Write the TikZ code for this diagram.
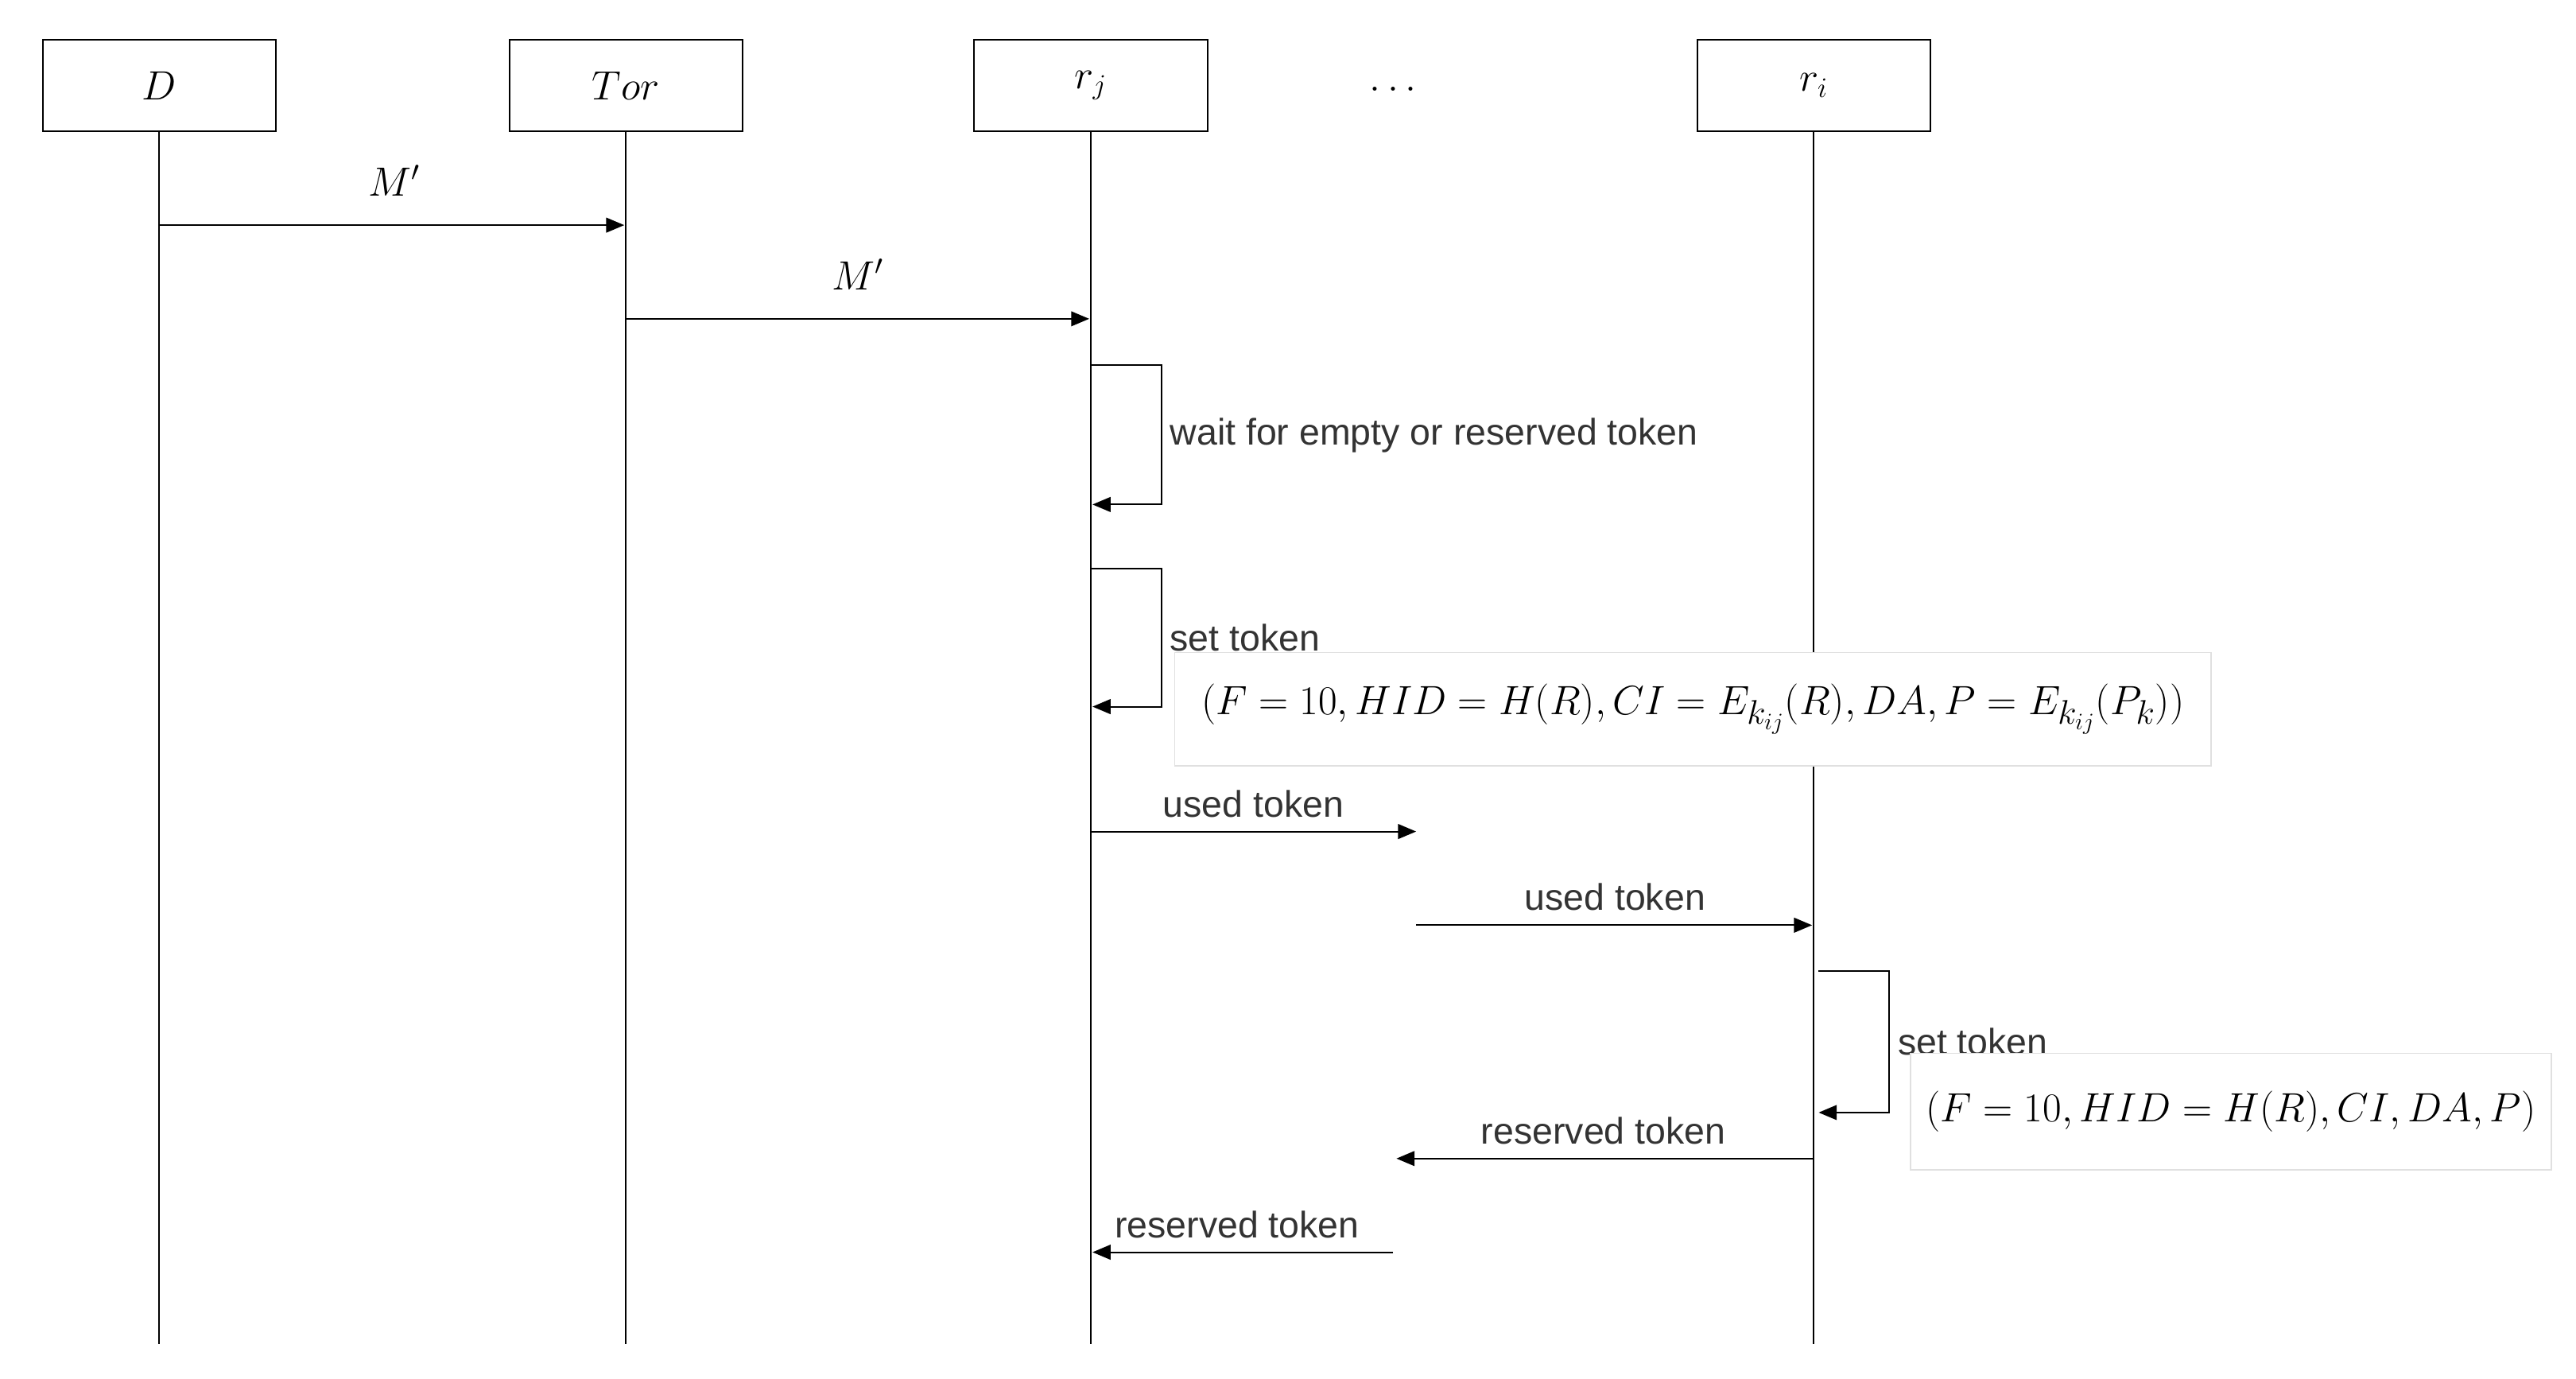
\documentclass[tikz,border=0pt]{standalone}
\usepackage{fontspec}
\setmainfont{Liberation Sans}
\usetikzlibrary{arrows.meta}
\begin{document}
\begin{tikzpicture}[x=1pt,y=-1pt,
  box/.style={draw,line width=1pt,minimum width=142pt,minimum height=56pt,inner sep=0pt,font=\fontsize{27}{29}\selectfont},
  life/.style={line width=1pt},
  msg/.style={line width=1pt,-{Triangle[length=11pt,width=9pt]}},
  lbl/.style={font=\fontsize{22.5}{24}\selectfont,inner sep=0pt,text=black!80},
  mlbl/.style={inner sep=0pt,font=\fontsize{27}{29}\selectfont},
  fbox/.style={draw=black!12,fill=white,line width=0.8pt,inner sep=0pt,font=\fontsize{27.5}{30}\selectfont}]
\useasboundingbox (0,0) rectangle (1568,839);
\node[box] (D) at (97,52) {$D$};
\node[box] (T) at (381,52) {$Tor$};
\node[box] (J) at (664,52) {$r_j$};
\node[box] (I) at (1104,52) {$r_i$};
\node[font=\fontsize{30}{32}\selectfont] (dots) at (848,54) {$\dots$};
\coordinate (De) at (97,818); \coordinate (Te) at (381,818);
\coordinate (Je) at (664,818); \coordinate (Ie) at (1104,818);
\draw[life] (D) -- (De); \draw[life] (T) -- (Te);
\draw[life] (J) -- (Je); \draw[life] (I) -- (Ie);
% messages
\coordinate (a1) at (97,137); \coordinate (a2) at (380,137);
\draw[msg] (a1) -- (a2);
\node[mlbl] (l1) at (240,110) {$M'$};
\coordinate (b1) at (381,194); \coordinate (b2) at (663,194);
\draw[msg] (b1) -- (b2);
\node[mlbl] (l2) at (522,167) {$M'$};
% loop 1
\coordinate (c1) at (664,222); \coordinate (c2) at (707,222);
\coordinate (c3) at (707,307); \coordinate (c4) at (665,307);
\draw[msg] (c1) -- (c2) -- (c3) -- (c4);
\node[lbl,anchor=west] (l3) at (712,265) {wait for empty or reserved token};
% loop 2
\coordinate (d1) at (664,346); \coordinate (d2) at (707,346);
\coordinate (d3) at (707,430); \coordinate (d4) at (665,430);
\draw[msg] (d1) -- (d2) -- (d3) -- (d4);
\node[lbl,anchor=west] (l4) at (712,388) {set token};
\node[fbox,minimum width=631pt,minimum height=69pt] (f1) at (1030.5,431.5) {$(F=10,HID=H(R),CI=E_{k_{ij}}(R),DA,P=E_{k_{ij}}(P_k))$};
% used token
\coordinate (e1) at (664,506); \coordinate (e2) at (862,506);
\draw[msg] (e1) -- (e2);
\node[lbl] (l5) at (763,489) {used token};
\coordinate (g1) at (862,563); \coordinate (g2) at (1103,563);
\draw[msg] (g1) -- (g2);
\node[lbl] (l6) at (983,546) {used token};
% loop 3
\coordinate (h1) at (1107,591); \coordinate (h2) at (1150,591);
\coordinate (h3) at (1150,677); \coordinate (h4) at (1107,677);
\draw[msg] (h1) -- (h2) -- (h3) -- (h4);
\node[lbl,anchor=west] (l7) at (1155,634) {set token};
\node[fbox,minimum width=390pt,minimum height=71pt] (f2) at (1358,676.5) {$(F=10,HID=H(R),CI,DA,P)$};
% reserved
\coordinate (k1) at (1104,705); \coordinate (k2) at (850,705);
\draw[msg] (k1) -- (k2);
\node[lbl] (l8) at (976,688) {reserved token};
\coordinate (m1) at (848,762); \coordinate (m2) at (665,762);
\draw[msg] (m1) -- (m2);
\node[lbl] (l9) at (753,745) {reserved token};
\end{tikzpicture}
\end{document}
